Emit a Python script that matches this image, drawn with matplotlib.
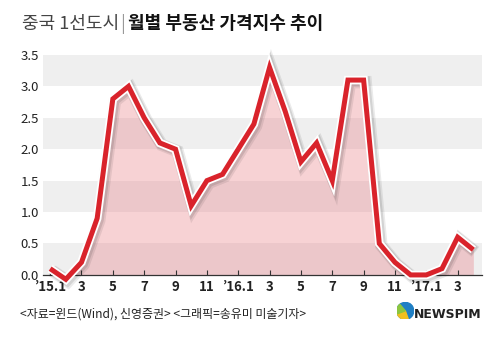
import numpy as np
import matplotlib.pyplot as plt
import matplotlib.patheffects as pe
from matplotlib.patches import Wedge, Circle

plt.rcParams['font.family'] = ['Noto Sans CJK KR', 'DejaVu Sans']

# 월별 가격지수 ('15.1 ~ '17.4)
values = [0.1, -0.07, 0.2, 0.9, 2.8, 3.0, 2.5, 2.1, 2.0, 1.1, 1.5, 1.6,
          2.0, 2.4, 3.3, 2.6, 1.8, 2.1, 1.5, 3.1, 3.1, 0.5, 0.2, 0.0,
          0.0, 0.1, 0.6, 0.4]
tick_labels = ["\u201915.1", "3", "5", "7", "9", "11", "\u201916.1",
               "3", "5", "7", "9", "11", "\u201917.1", "3"]
y_ticks = [0.0, 0.5, 1.0, 1.5, 2.0, 2.5, 3.0, 3.5]

months = np.arange(len(values))

fig = plt.figure(figsize=(5.01, 3.39), dpi=100)
ax = fig.add_axes([0.086, 0.189, 0.876, 0.649])
ax.set_xlim(-0.45, 27.55)
ax.set_ylim(0, 3.5)

# 회색/흰색 가로 띠
for i in range(7):
    lo = i * 0.5
    if i % 2 == 0:
        ax.axhspan(lo, lo + 0.5, color='#efefef', lw=0, zorder=0)

ax.fill_between(months, values, 0, color='#e8787f', alpha=0.33, lw=0, zorder=1)

line, = ax.plot(months, values, color='#d9232b', lw=3.6, solid_joinstyle='miter',
                solid_capstyle='butt', zorder=3, clip_on=False)
line.set_path_effects([
    pe.SimpleLineShadow(offset=(1.5, -1.5), shadow_color='#000000', alpha=0.08, linewidth=9),
    pe.SimpleLineShadow(offset=(1.0, -1.0), shadow_color='#000000', alpha=0.1, linewidth=7.5),
    pe.Stroke(linewidth=6.2, foreground='white'),
    pe.Normal(),
])

for s in ['top', 'right', 'left']:
    ax.spines[s].set_visible(False)
ax.spines['bottom'].set_color('#333333')
ax.spines['bottom'].set_linewidth(0.9)
ax.spines['bottom'].set_zorder(2)

ax.set_yticks(y_ticks)
ax.set_yticklabels([f"{v:.1f}" for v in y_ticks], fontsize=9.5, color='#222222')
ax.tick_params(axis='y', length=0, pad=3)

ax.set_xticks(months[::2])
ax.set_xticklabels(tick_labels, fontsize=9.5, fontweight='bold', color='#222222')
ax.tick_params(axis='x', direction='in', length=3.5, width=0.8, color='#333333', pad=4)

# 제목: 조각별로 이어 붙이기
renderer = fig.canvas.get_renderer()
title_parts = [("중국 1선도시", '#444444', 'light', 1),
               ("|", '#999999', 'light', 3),
               ("월별 부동산 가격지수 추이", '#111111', 'bold', 0)]
x_px = 22
for txt, col, wt, gap in title_parts:
    t = fig.text(x_px / 501, 0.915, txt, fontsize=13, color=col, fontweight=wt,
                 va='baseline')
    bb = t.get_window_extent(renderer)
    x_px = bb.x1 + gap

# 출처
fig.text(0.04, 0.062, "<자료=윈드(Wind), 신영증권> <그래픽=송유미 미술기자>",
         fontsize=8.6, color='#222222', va='baseline')

# 로고
logo = fig.add_axes([0.792, 0.058, 0.034, 0.05])
logo.set_xlim(-1, 1)
logo.set_ylim(-1, 1)
logo.set_aspect('equal')
logo.axis('off')
logo.add_patch(Circle((0, 0), 1, color='#1f7fc4'))
logo.add_patch(Wedge((0, 0), 1, 200, 290, color='#f2c01e'))
logo.add_patch(Wedge((0, 0), 1, 130, 200, color='#8cc63f'))
fig.text(0.826, 0.062, "NEWSPIM", fontsize=9, fontweight='bold', color='#222222',
         va='baseline', family='DejaVu Sans')

fig.savefig("out.png", dpi=100)
